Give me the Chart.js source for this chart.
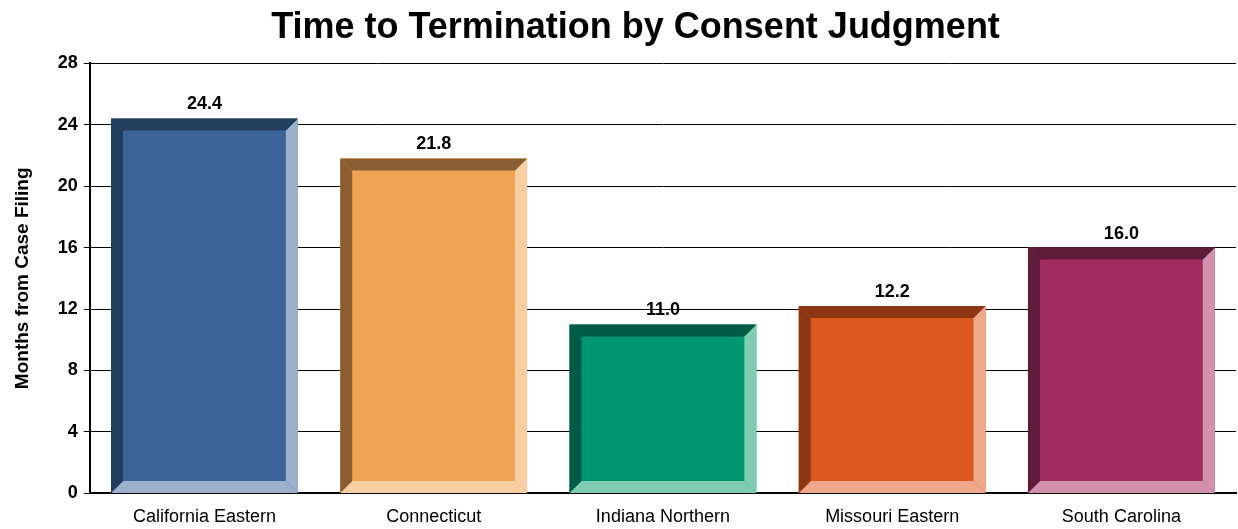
<!DOCTYPE html>
<html>
<head>
<meta charset="utf-8">
<script src="https://cdn.jsdelivr.net/npm/chart.js@4"></script>
<style>
  html, body { margin: 0; padding: 0; background: #fff; }
  #wrap { width: 1238px; height: 529px; }
</style>
</head>
<body>
<div id="wrap"><canvas id="myChart" width="1238" height="529"></canvas></div>
<script>
// datos
var districts = ['California Eastern', 'Connecticut', 'Indiana Northern', 'Missouri Eastern', 'South Carolina'];
var months = [24.4, 21.8, 11.0, 12.2, 16.0];
// colores: cara, borde oscuro, borde claro
var faceColors = ['#3a6596', '#efa355', '#029571', '#dc5920', '#a02d5f'];
var darkColors = ['#233d5c', '#8b5e32', '#005a45', '#8c3614', '#5e1c3a'];
var lightColors = ['#9ab0cb', '#f8cfa3', '#7fccb3', '#efa98a', '#d292ae'];

var fontFam = '"Liberation Sans", Arial, sans-serif';

// bisel de las barras + etiqueta del valor
var bevelPlugin = {
    id: 'bevel',
    afterLayout: function (chart) {
        // el titulo va un poco a la derecha en el original
        if (chart.titleBlock) chart.titleBlock.left += 24;
    },
    afterDatasetsDraw: function (chart) {
        var ctx = chart.ctx;
        var meta = chart.getDatasetMeta(0);
        var b = 12;
        meta.data.forEach(function (bar, i) {
            var l = bar.x - bar.width / 2, r = bar.x + bar.width / 2;
            var t = bar.y, bot = bar.base;
            var poly = function (pts, color) {
                ctx.beginPath();
                ctx.moveTo(pts[0][0], pts[0][1]);
                for (var k = 1; k < pts.length; k++) ctx.lineTo(pts[k][0], pts[k][1]);
                ctx.closePath();
                ctx.fillStyle = color;
                ctx.fill();
            };
            ctx.save();
            poly([[r, t], [r, bot], [r - b, bot - b], [r - b, t + b]], lightColors[i]);
            poly([[l, bot], [r, bot], [r - b, bot - b], [l + b, bot - b]], lightColors[i]);
            poly([[l, t], [r, t], [r - b, t + b], [l + b, t + b]], darkColors[i]);
            poly([[l, t], [l + b, t + b], [l + b, bot - b], [l, bot]], darkColors[i]);
            ctx.fillStyle = '#000';
            ctx.font = 'bold 18px ' + fontFam;
            ctx.textAlign = 'center';
            ctx.textBaseline = 'bottom';
            ctx.fillText(months[i].toFixed(1), bar.x, t - 5);
            ctx.restore();
        });
    }
};

var configChart = {
    type: 'bar',
    data: {
        labels: districts,
        datasets: [{
            data: months,
            backgroundColor: faceColors,
            borderWidth: 0,
            barPercentage: 0.815,
            categoryPercentage: 1.0
        }]
    },
    options: {
        responsive: false,
        animation: false,
        layout: { padding: { left: 11, right: 2, top: 0, bottom: -12 } },
        plugins: {
            legend: { display: false },
            tooltip: { enabled: false },
            title: {
                display: true,
                text: 'Time to Termination by Consent Judgment',
                color: '#000',
                font: { family: fontFam, size: 36, weight: 'bold' },
                padding: { top: 6, bottom: 14 }
            }
        },
        scales: {
            x: {
                grid: { display: false, drawTicks: false },
                border: { color: '#000', width: 2 },
                ticks: {
                    color: '#000',
                    padding: 13,
                    font: { family: fontFam, size: 18 }
                }
            },
            y: {
                min: 0,
                max: 28,
                ticks: {
                    stepSize: 4,
                    color: '#000',
                    padding: 6,
                    font: { family: fontFam, size: 18, weight: 'bold' }
                },
                grid: { color: '#000', lineWidth: 1, tickLength: 6 },
                border: { color: '#000', width: 2 },
                title: {
                    display: true,
                    text: 'Months from Case Filing',
                    color: '#000',
                    font: { family: fontFam, size: 19, weight: 'bold' },
                    padding: { top: 0, bottom: 18 }
                }
            }
        }
    },
    plugins: [bevelPlugin]
};

window.onload = function () {
    var myChart = document.querySelector('#myChart').getContext('2d');
    var graphicsChart = new Chart(myChart, configChart);
};
</script>
</body>
</html>
